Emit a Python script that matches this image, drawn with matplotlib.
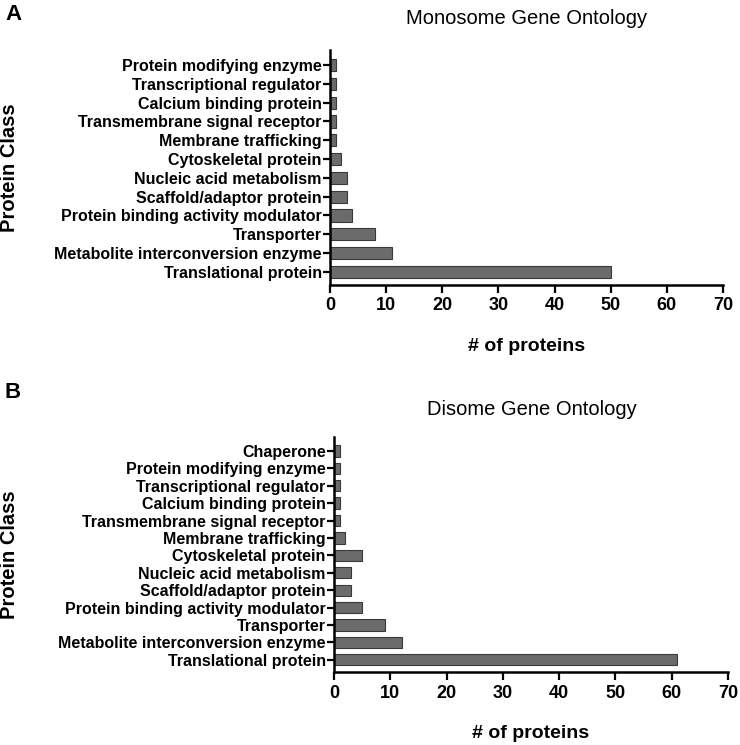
import matplotlib.pyplot as plt

mono_classes = ['Translational protein', 'Metabolite interconversion enzyme', 'Transporter',
                'Protein binding activity modulator', 'Scaffold/adaptor protein',
                'Nucleic acid metabolism', 'Cytoskeletal protein', 'Membrane trafficking',
                'Transmembrane signal receptor', 'Calcium binding protein',
                'Transcriptional regulator', 'Protein modifying enzyme']
mono_counts = [50, 11, 8, 4, 3, 3, 2, 1, 1, 1, 1, 1]

di_classes = mono_classes + ['Chaperone']
di_counts = [61, 12, 9, 5, 3, 3, 5, 2, 1, 1, 1, 1, 1]

xticks = [0, 10, 20, 30, 40, 50, 60, 70]

plt.rcParams['font.family'] = ['Liberation Sans', 'DejaVu Sans']
plt.rcParams['font.weight'] = 'bold'

fig = plt.figure(figsize=(7.4, 7.45), dpi=100)
W, H = 740, 745


def panel(rect, classes, counts, title, title_x, title_pad):
    x0, y0, x1, y1 = rect  # pixel box (left, top, right, bottom)
    ax = fig.add_axes([x0 / W, 1 - y1 / H, (x1 - x0) / W, (y1 - y0) / H])
    y = range(len(classes))
    ax.barh(y, counts, height=0.65, color='#6b6b6b', edgecolor='#3a3a3a', linewidth=0.8)
    ax.set_xlim(0, 70)
    ax.set_ylim(-0.7, len(classes) - 0.2)
    ax.set_xticks(xticks)
    ax.set_yticks(list(y))
    ax.set_yticklabels(classes, fontsize=11.5, fontweight='bold')
    ax.tick_params(axis='x', labelsize=13, width=1.6, length=6, pad=3)
    ax.tick_params(axis='y', width=1.6, length=5, pad=1)
    for lab in ax.get_xticklabels():
        lab.set_fontweight('bold')
    for s in ['top', 'right']:
        ax.spines[s].set_visible(False)
    for s in ['left', 'bottom']:
        ax.spines[s].set_linewidth(1.8)
    ax.set_title(title, fontsize=14.5, fontweight='normal',
                 x=(title_x - x0) / (x1 - x0), pad=title_pad)
    ax.set_xlabel('# of proteins', fontsize=14, fontweight='bold', labelpad=17)
    ax.set_ylabel('Protein Class', fontsize=14.5, fontweight='bold', labelpad=0)
    ax.yaxis.set_label_coords(-(x0 - 19) / (x1 - x0), 0.5)
    return ax


panel((330, 50, 723, 285), mono_classes, mono_counts, 'Monosome Gene Ontology', 527, 19)
panel((334, 437, 728, 672), di_classes, di_counts, 'Disome Gene Ontology', 532, 16)

fig.text(5 / W, 1 - 14 / H, 'A', fontsize=16, fontweight='bold', va='center')
fig.text(5 / W, 1 - 393 / H, 'B', fontsize=16, fontweight='bold', va='center')

fig.savefig('out.png', dpi=100)
